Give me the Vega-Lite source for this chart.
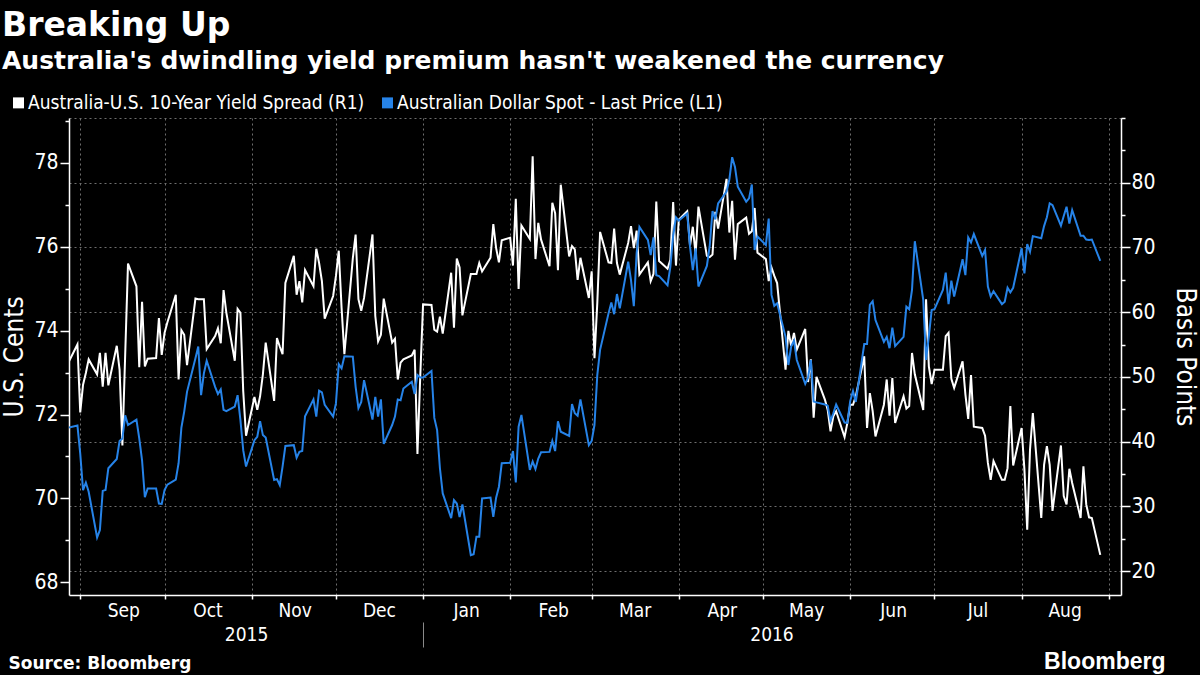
{
  "$schema": "https://vega.github.io/schema/vega-lite/v6.json",
  "width": 1052,
  "height": 477,
  "autosize": {"type": "none"},
  "padding": {"left": 69, "top": 118, "right": 79, "bottom": 80},
  "background": "#000000",
  "config": {
    "view": {"stroke": null},
    "font": "DejaVu Sans Condensed, DejaVu Sans",
    "axis": {"labelColor": "#ffffff", "titleColor": "#ffffff", "domainColor": "#ffffff", "tickColor": "#ffffff", "domainWidth": 1.5, "tickWidth": 1.5, "gridColor": "#6e6e6e", "gridDash": [2, 3], "gridWidth": 1}
  },
  "title": {
    "text": "Breaking Up",
    "subtitle": "Australia's dwindling yield premium hasn't weakened the currency",
    "anchor": "start",
    "frame": "group",
    "dx": -67,
    "offset": 19,
    "font": "DejaVu Sans",
    "fontSize": 33,
    "fontWeight": "bold",
    "color": "#ffffff",
    "subtitleFont": "DejaVu Sans",
    "subtitleFontSize": 25,
    "subtitleFontWeight": "bold",
    "subtitleColor": "#ffffff",
    "subtitlePadding": 6
  },
  "data": {
    "values": [
      {"date": "2015-08-28", "aud": 71.69, "spread": 52.4},
      {"date": "2015-08-31", "aud": 71.74, "spread": 55.0},
      {"date": "2015-09-01", "aud": 71.07, "spread": 44.5},
      {"date": "2015-09-02", "aud": 70.20, "spread": 48.8},
      {"date": "2015-09-03", "aud": 70.38, "spread": 50.6},
      {"date": "2015-09-04", "aud": 70.16, "spread": 52.7},
      {"date": "2015-09-07", "aud": 69.07, "spread": 50.4},
      {"date": "2015-09-08", "aud": 69.25, "spread": 53.7},
      {"date": "2015-09-09", "aud": 70.18, "spread": 48.5},
      {"date": "2015-09-10", "aud": 70.20, "spread": 53.7},
      {"date": "2015-09-11", "aud": 70.72, "spread": 48.7},
      {"date": "2015-09-14", "aud": 70.94, "spread": 54.8},
      {"date": "2015-09-15", "aud": 71.37, "spread": 51.1},
      {"date": "2015-09-16", "aud": 71.43, "spread": 39.4},
      {"date": "2015-09-17", "aud": 71.98, "spread": 53.5},
      {"date": "2015-09-18", "aud": 71.75, "spread": 67.5},
      {"date": "2015-09-21", "aud": 71.88, "spread": 64.0},
      {"date": "2015-09-22", "aud": 71.43, "spread": 51.5},
      {"date": "2015-09-23", "aud": 70.91, "spread": 61.6},
      {"date": "2015-09-24", "aud": 70.03, "spread": 51.6},
      {"date": "2015-09-25", "aud": 70.24, "spread": 52.8},
      {"date": "2015-09-28", "aud": 70.24, "spread": 52.9},
      {"date": "2015-09-29", "aud": 69.88, "spread": 59.1},
      {"date": "2015-09-30", "aud": 69.87, "spread": 53.4},
      {"date": "2015-10-01", "aud": 70.20, "spread": 56.8},
      {"date": "2015-10-02", "aud": 70.33, "spread": 58.4},
      {"date": "2015-10-05", "aud": 70.45, "spread": 62.7},
      {"date": "2015-10-06", "aud": 70.84, "spread": 49.6},
      {"date": "2015-10-07", "aud": 71.69, "spread": 57.2},
      {"date": "2015-10-08", "aud": 72.07, "spread": 56.5},
      {"date": "2015-10-09", "aud": 72.54, "spread": 51.8},
      {"date": "2015-10-12", "aud": 73.34, "spread": 62.1},
      {"date": "2015-10-13", "aud": 73.62, "spread": 62.0},
      {"date": "2015-10-14", "aud": 72.46, "spread": 62.0},
      {"date": "2015-10-15", "aud": 72.98, "spread": 62.0},
      {"date": "2015-10-16", "aud": 73.28, "spread": 54.3},
      {"date": "2015-10-19", "aud": 72.66, "spread": 56.3},
      {"date": "2015-10-20", "aud": 72.49, "spread": 57.5},
      {"date": "2015-10-21", "aud": 72.60, "spread": 55.2},
      {"date": "2015-10-22", "aud": 72.11, "spread": 63.4},
      {"date": "2015-10-23", "aud": 72.08, "spread": 59.9},
      {"date": "2015-10-26", "aud": 72.19, "spread": 52.5},
      {"date": "2015-10-27", "aud": 72.46, "spread": 60.5},
      {"date": "2015-10-28", "aud": 71.87, "spread": 59.9},
      {"date": "2015-10-29", "aud": 71.15, "spread": 47.8},
      {"date": "2015-10-30", "aud": 70.76, "spread": 40.9},
      {"date": "2015-11-02", "aud": 71.39, "spread": 46.9},
      {"date": "2015-11-03", "aud": 71.47, "spread": 44.9},
      {"date": "2015-11-04", "aud": 71.84, "spread": 47.0},
      {"date": "2015-11-05", "aud": 71.51, "spread": 50.4},
      {"date": "2015-11-06", "aud": 71.45, "spread": 55.3},
      {"date": "2015-11-09", "aud": 70.44, "spread": 46.3},
      {"date": "2015-11-10", "aud": 70.46, "spread": 56.0},
      {"date": "2015-11-11", "aud": 70.32, "spread": 54.7},
      {"date": "2015-11-12", "aud": 70.76, "spread": 53.5},
      {"date": "2015-11-13", "aud": 71.25, "spread": 64.5},
      {"date": "2015-11-16", "aud": 71.27, "spread": 68.7},
      {"date": "2015-11-17", "aud": 70.97, "spread": 62.7},
      {"date": "2015-11-18", "aud": 71.11, "spread": 64.8},
      {"date": "2015-11-19", "aud": 71.13, "spread": 61.5},
      {"date": "2015-11-20", "aud": 71.96, "spread": 66.5},
      {"date": "2015-11-23", "aud": 72.36, "spread": 64.0},
      {"date": "2015-11-24", "aud": 71.95, "spread": 69.8},
      {"date": "2015-11-25", "aud": 72.57, "spread": 67.6},
      {"date": "2015-11-26", "aud": 72.53, "spread": 64.8},
      {"date": "2015-11-27", "aud": 72.23, "spread": 59.0},
      {"date": "2015-11-30", "aud": 71.95, "spread": 62.5},
      {"date": "2015-12-01", "aud": 72.27, "spread": 65.6},
      {"date": "2015-12-02", "aud": 73.20, "spread": 69.5},
      {"date": "2015-12-03", "aud": 73.10, "spread": 60.7},
      {"date": "2015-12-04", "aud": 73.39, "spread": 53.5},
      {"date": "2015-12-07", "aud": 73.38, "spread": 68.3},
      {"date": "2015-12-08", "aud": 72.66, "spread": 72.0},
      {"date": "2015-12-09", "aud": 72.15, "spread": 62.0},
      {"date": "2015-12-10", "aud": 72.30, "spread": 60.2},
      {"date": "2015-12-11", "aud": 72.82, "spread": 62.2},
      {"date": "2015-12-14", "aud": 71.88, "spread": 72.0},
      {"date": "2015-12-15", "aud": 72.42, "spread": 59.4},
      {"date": "2015-12-16", "aud": 71.95, "spread": 55.5},
      {"date": "2015-12-17", "aud": 72.36, "spread": 56.5},
      {"date": "2015-12-18", "aud": 71.30, "spread": 62.1},
      {"date": "2015-12-21", "aud": 71.75, "spread": 55.3},
      {"date": "2015-12-22", "aud": 71.95, "spread": 55.9},
      {"date": "2015-12-23", "aud": 72.36, "spread": 49.6},
      {"date": "2015-12-24", "aud": 72.34, "spread": 52.2},
      {"date": "2015-12-25", "aud": 72.62, "spread": 52.7},
      {"date": "2015-12-28", "aud": 72.78, "spread": 53.3},
      {"date": "2015-12-29", "aud": 72.49, "spread": 54.2},
      {"date": "2015-12-30", "aud": 72.94, "spread": 38.1},
      {"date": "2015-12-31", "aud": 72.88, "spread": 50.1},
      {"date": "2016-01-01", "aud": 72.88, "spread": 61.2},
      {"date": "2016-01-04", "aud": 73.04, "spread": 61.1},
      {"date": "2016-01-05", "aud": 71.92, "spread": 57.3},
      {"date": "2016-01-06", "aud": 71.63, "spread": 57.0},
      {"date": "2016-01-07", "aud": 70.72, "spread": 59.3},
      {"date": "2016-01-08", "aud": 70.12, "spread": 56.7},
      {"date": "2016-01-11", "aud": 69.53, "spread": 66.1},
      {"date": "2016-01-12", "aud": 69.96, "spread": 57.6},
      {"date": "2016-01-13", "aud": 69.88, "spread": 68.3},
      {"date": "2016-01-14", "aud": 69.56, "spread": 66.9},
      {"date": "2016-01-15", "aud": 69.86, "spread": 59.5},
      {"date": "2016-01-18", "aud": 68.65, "spread": 65.9},
      {"date": "2016-01-19", "aud": 68.67, "spread": 65.9},
      {"date": "2016-01-20", "aud": 69.09, "spread": 65.9},
      {"date": "2016-01-21", "aud": 69.09, "spread": 67.6},
      {"date": "2016-01-22", "aud": 70.00, "spread": 66.3},
      {"date": "2016-01-25", "aud": 70.02, "spread": 68.4},
      {"date": "2016-01-26", "aud": 69.56, "spread": 73.6},
      {"date": "2016-01-27", "aud": 70.02, "spread": 69.9},
      {"date": "2016-01-28", "aud": 70.28, "spread": 67.7},
      {"date": "2016-01-29", "aud": 70.84, "spread": 71.1},
      {"date": "2016-02-01", "aud": 70.85, "spread": 71.5},
      {"date": "2016-02-02", "aud": 71.13, "spread": 67.2},
      {"date": "2016-02-03", "aud": 70.38, "spread": 77.5},
      {"date": "2016-02-04", "aud": 71.71, "spread": 63.6},
      {"date": "2016-02-05", "aud": 71.99, "spread": 73.4},
      {"date": "2016-02-08", "aud": 70.68, "spread": 71.3},
      {"date": "2016-02-09", "aud": 70.88, "spread": 84.1},
      {"date": "2016-02-10", "aud": 70.70, "spread": 68.2},
      {"date": "2016-02-11", "aud": 70.95, "spread": 73.8},
      {"date": "2016-02-12", "aud": 71.10, "spread": 71.2},
      {"date": "2016-02-15", "aud": 71.11, "spread": 67.1},
      {"date": "2016-02-16", "aud": 71.37, "spread": 76.9},
      {"date": "2016-02-17", "aud": 71.13, "spread": 75.3},
      {"date": "2016-02-18", "aud": 71.84, "spread": 66.5},
      {"date": "2016-02-19", "aud": 71.59, "spread": 79.7},
      {"date": "2016-02-22", "aud": 71.49, "spread": 68.6},
      {"date": "2016-02-23", "aud": 72.25, "spread": 70.2},
      {"date": "2016-02-24", "aud": 72.03, "spread": 69.7},
      {"date": "2016-02-25", "aud": 71.97, "spread": 65.0},
      {"date": "2016-02-26", "aud": 72.36, "spread": 68.4},
      {"date": "2016-02-29", "aud": 71.27, "spread": 62.2},
      {"date": "2016-03-01", "aud": 71.37, "spread": 66.3},
      {"date": "2016-03-02", "aud": 71.75, "spread": 52.9},
      {"date": "2016-03-03", "aud": 72.94, "spread": 61.4},
      {"date": "2016-03-04", "aud": 73.54, "spread": 72.4},
      {"date": "2016-03-07", "aud": 74.41, "spread": 67.7},
      {"date": "2016-03-08", "aud": 74.67, "spread": 67.6},
      {"date": "2016-03-09", "aud": 74.39, "spread": 72.9},
      {"date": "2016-03-10", "aud": 74.87, "spread": 67.6},
      {"date": "2016-03-11", "aud": 74.53, "spread": 65.8},
      {"date": "2016-03-14", "aud": 75.64, "spread": 70.7},
      {"date": "2016-03-15", "aud": 75.20, "spread": 73.3},
      {"date": "2016-03-16", "aud": 74.58, "spread": 69.9},
      {"date": "2016-03-17", "aud": 75.84, "spread": 72.6},
      {"date": "2016-03-18", "aud": 76.47, "spread": 65.8},
      {"date": "2016-03-21", "aud": 76.16, "spread": 67.7},
      {"date": "2016-03-22", "aud": 75.80, "spread": 64.8},
      {"date": "2016-03-23", "aud": 76.22, "spread": 65.9},
      {"date": "2016-03-24", "aud": 75.32, "spread": 77.1},
      {"date": "2016-03-25", "aud": 75.30, "spread": 67.9},
      {"date": "2016-03-28", "aud": 75.08, "spread": 66.7},
      {"date": "2016-03-29", "aud": 75.52, "spread": 68.1},
      {"date": "2016-03-30", "aud": 76.26, "spread": 77.0},
      {"date": "2016-03-31", "aud": 76.70, "spread": 67.2},
      {"date": "2016-04-01", "aud": 76.62, "spread": 74.3},
      {"date": "2016-04-04", "aud": 76.79, "spread": 75.6},
      {"date": "2016-04-05", "aud": 76.00, "spread": 70.3},
      {"date": "2016-04-06", "aud": 75.44, "spread": 73.2},
      {"date": "2016-04-07", "aud": 75.96, "spread": 68.9},
      {"date": "2016-04-08", "aud": 75.05, "spread": 76.3},
      {"date": "2016-04-11", "aud": 75.54, "spread": 68.7},
      {"date": "2016-04-12", "aud": 76.01, "spread": 68.5},
      {"date": "2016-04-13", "aud": 76.85, "spread": 68.9},
      {"date": "2016-04-14", "aud": 76.65, "spread": 75.5},
      {"date": "2016-04-15", "aud": 77.03, "spread": 72.9},
      {"date": "2016-04-18", "aud": 77.31, "spread": 80.6},
      {"date": "2016-04-19", "aud": 77.60, "spread": 72.3},
      {"date": "2016-04-20", "aud": 78.13, "spread": 77.2},
      {"date": "2016-04-21", "aud": 77.90, "spread": 68.1},
      {"date": "2016-04-22", "aud": 77.43, "spread": 73.6},
      {"date": "2016-04-25", "aud": 77.07, "spread": 74.6},
      {"date": "2016-04-26", "aud": 77.15, "spread": 72.1},
      {"date": "2016-04-27", "aud": 77.48, "spread": 72.5},
      {"date": "2016-04-28", "aud": 75.92, "spread": 76.1},
      {"date": "2016-04-29", "aud": 76.24, "spread": 69.2},
      {"date": "2016-05-02", "aud": 76.04, "spread": 68.2},
      {"date": "2016-05-03", "aud": 76.67, "spread": 64.8},
      {"date": "2016-05-04", "aud": 74.85, "spread": 66.9},
      {"date": "2016-05-05", "aud": 74.59, "spread": 65.6},
      {"date": "2016-05-06", "aud": 74.65, "spread": 64.5},
      {"date": "2016-05-09", "aud": 73.85, "spread": 51.1},
      {"date": "2016-05-10", "aud": 73.18, "spread": 57.1},
      {"date": "2016-05-11", "aud": 73.62, "spread": 54.8},
      {"date": "2016-05-12", "aud": 73.76, "spread": 56.8},
      {"date": "2016-05-13", "aud": 73.30, "spread": 54.2},
      {"date": "2016-05-16", "aud": 72.73, "spread": 57.4},
      {"date": "2016-05-17", "aud": 72.88, "spread": 49.2},
      {"date": "2016-05-18", "aud": 73.30, "spread": 52.7},
      {"date": "2016-05-19", "aud": 72.31, "spread": 43.7},
      {"date": "2016-05-20", "aud": 72.29, "spread": 50.0},
      {"date": "2016-05-23", "aud": 72.24, "spread": 46.5},
      {"date": "2016-05-24", "aud": 72.21, "spread": 44.9},
      {"date": "2016-05-25", "aud": 71.85, "spread": 41.6},
      {"date": "2016-05-26", "aud": 72.03, "spread": 43.9},
      {"date": "2016-05-27", "aud": 72.24, "spread": 44.7},
      {"date": "2016-05-30", "aud": 71.81, "spread": 40.7},
      {"date": "2016-05-31", "aud": 71.80, "spread": 42.9},
      {"date": "2016-06-01", "aud": 72.32, "spread": 45.7},
      {"date": "2016-06-02", "aud": 72.56, "spread": 45.7},
      {"date": "2016-06-03", "aud": 72.30, "spread": 47.0},
      {"date": "2016-06-06", "aud": 73.68, "spread": 53.2},
      {"date": "2016-06-07", "aud": 73.68, "spread": 42.1},
      {"date": "2016-06-08", "aud": 74.61, "spread": 47.5},
      {"date": "2016-06-09", "aud": 74.70, "spread": 44.7},
      {"date": "2016-06-10", "aud": 74.25, "spread": 40.8},
      {"date": "2016-06-13", "aud": 73.73, "spread": 45.7},
      {"date": "2016-06-14", "aud": 73.85, "spread": 49.6},
      {"date": "2016-06-15", "aud": 73.58, "spread": 44.0},
      {"date": "2016-06-16", "aud": 74.07, "spread": 49.8},
      {"date": "2016-06-17", "aud": 73.63, "spread": 42.9},
      {"date": "2016-06-20", "aud": 73.85, "spread": 47.0},
      {"date": "2016-06-21", "aud": 74.57, "spread": 45.1},
      {"date": "2016-06-22", "aud": 74.51, "spread": 45.5},
      {"date": "2016-06-23", "aud": 74.97, "spread": 53.7},
      {"date": "2016-06-24", "aud": 76.13, "spread": 50.4},
      {"date": "2016-06-27", "aud": 74.73, "spread": 44.9},
      {"date": "2016-06-28", "aud": 73.30, "spread": 62.0},
      {"date": "2016-06-29", "aud": 73.87, "spread": 51.6},
      {"date": "2016-06-30", "aud": 74.49, "spread": 48.9},
      {"date": "2016-07-01", "aud": 74.51, "spread": 51.1},
      {"date": "2016-07-04", "aud": 74.97, "spread": 51.1},
      {"date": "2016-07-05", "aud": 75.38, "spread": 56.3},
      {"date": "2016-07-06", "aud": 74.63, "spread": 56.8},
      {"date": "2016-07-07", "aud": 75.19, "spread": 49.7},
      {"date": "2016-07-08", "aud": 74.81, "spread": 48.3},
      {"date": "2016-07-11", "aud": 75.70, "spread": 52.4},
      {"date": "2016-07-12", "aud": 75.32, "spread": 47.3},
      {"date": "2016-07-13", "aud": 76.22, "spread": 43.5},
      {"date": "2016-07-14", "aud": 76.10, "spread": 50.3},
      {"date": "2016-07-15", "aud": 76.30, "spread": 42.3},
      {"date": "2016-07-18", "aud": 75.78, "spread": 42.1},
      {"date": "2016-07-19", "aud": 75.92, "spread": 40.9},
      {"date": "2016-07-20", "aud": 75.05, "spread": 36.7},
      {"date": "2016-07-21", "aud": 74.81, "spread": 34.1},
      {"date": "2016-07-22", "aud": 74.94, "spread": 37.0},
      {"date": "2016-07-25", "aud": 74.63, "spread": 34.1},
      {"date": "2016-07-26", "aud": 74.69, "spread": 34.1},
      {"date": "2016-07-27", "aud": 75.02, "spread": 35.9},
      {"date": "2016-07-28", "aud": 74.91, "spread": 45.5},
      {"date": "2016-07-29", "aud": 75.02, "spread": 36.3},
      {"date": "2016-08-01", "aud": 75.96, "spread": 42.1},
      {"date": "2016-08-02", "aud": 75.36, "spread": 35.7},
      {"date": "2016-08-03", "aud": 76.06, "spread": 26.4},
      {"date": "2016-08-04", "aud": 75.88, "spread": 38.8},
      {"date": "2016-08-05", "aud": 76.25, "spread": 44.4},
      {"date": "2016-08-08", "aud": 76.20, "spread": 28.2},
      {"date": "2016-08-09", "aud": 76.49, "spread": 36.4},
      {"date": "2016-08-10", "aud": 76.70, "spread": 39.3},
      {"date": "2016-08-11", "aud": 77.03, "spread": 36.4},
      {"date": "2016-08-12", "aud": 76.99, "spread": 29.3},
      {"date": "2016-08-15", "aud": 76.50, "spread": 39.4},
      {"date": "2016-08-16", "aud": 76.73, "spread": 31.6},
      {"date": "2016-08-17", "aud": 76.95, "spread": 30.3},
      {"date": "2016-08-18", "aud": 76.55, "spread": 35.8},
      {"date": "2016-08-19", "aud": 76.87, "spread": 33.6},
      {"date": "2016-08-22", "aud": 76.26, "spread": 28.2},
      {"date": "2016-08-23", "aud": 76.26, "spread": 36.2},
      {"date": "2016-08-24", "aud": 76.17, "spread": 30.3},
      {"date": "2016-08-25", "aud": 76.16, "spread": 28.3},
      {"date": "2016-08-26", "aud": 76.17, "spread": 28.2},
      {"date": "2016-08-29", "aud": 75.66, "spread": 22.5}
    ]
  },
  "layer": [
    {
      "mark": {"type": "line", "strokeWidth": 2, "clip": true},
      "encoding": {
        "x": {
          "field": "date",
          "type": "temporal",
          "scale": {"type": "utc", "domain": [{"year": 2015, "month": 8, "date": 28, "utc": true}, {"year": 2016, "month": 9, "date": 5, "hours": 9, "utc": true}]},
          "axis": {
            "orient": "bottom",
            "title": null,
            "values": [
              {"year": 2015, "month": 9, "date": 1, "utc": true},
              {"year": 2015, "month": 10, "date": 1, "utc": true},
              {"year": 2015, "month": 11, "date": 1, "utc": true},
              {"year": 2015, "month": 12, "date": 1, "utc": true},
              {"year": 2016, "month": 1, "date": 1, "utc": true},
              {"year": 2016, "month": 2, "date": 1, "utc": true},
              {"year": 2016, "month": 3, "date": 1, "utc": true},
              {"year": 2016, "month": 4, "date": 1, "utc": true},
              {"year": 2016, "month": 5, "date": 1, "utc": true},
              {"year": 2016, "month": 6, "date": 1, "utc": true},
              {"year": 2016, "month": 7, "date": 1, "utc": true},
              {"year": 2016, "month": 8, "date": 1, "utc": true},
              {"year": 2016, "month": 9, "date": 1, "utc": true}
            ],
            "labelExpr": "datum.value >= 1472000000000 ? '' : utcFormat(datum.value, '%b')",
            "labelOffset": 43,
            "labelFontSize": 19,
            "labelPadding": 2,
            "labelFlush": false,
            "labelOverlap": false,
            "tickSize": 4,
            "grid": true
          }
        },
        "y": {
          "field": "spread",
          "type": "quantitative",
          "scale": {"domain": [16.3, 90], "nice": false, "zero": false},
          "axis": {
            "orient": "right",
            "title": "Basis Points",
            "titleFontSize": 26,
            "titleFontWeight": "normal",
            "titlePadding": 16,
            "values": [20, 25, 30, 35, 40, 45, 50, 55, 60, 65, 70, 75, 80, 85, 90],
            "labelExpr": "datum.value % 10 === 0 && datum.value < 90 ? datum.label : ''",
            "labelFontSize": 21,
            "labelPadding": 1,
            "labelOverlap": false,
            "tickSize": {"condition": {"test": "datum.value % 10 === 0 && datum.value < 90", "value": 9}, "value": 4},
            "grid": true,
            "gridOpacity": {"condition": {"test": "datum.value % 10 === 0", "value": 1}, "value": 0}
          }
        },
        "color": {
          "datum": "Australia-U.S. 10-Year Yield Spread (R1)",
          "type": "nominal",
          "scale": {
            "domain": ["Australia-U.S. 10-Year Yield Spread (R1)", "Australian Dollar Spot - Last Price (L1)"],
            "range": ["#ffffff", "#2683e8"]
          },
          "legend": {
            "orient": "none",
            "legendX": -60,
            "legendY": -25,
            "direction": "horizontal",
            "title": null,
            "symbolType": "square",
            "symbolSize": 30,
            "symbolStrokeWidth": 5.5,
            "symbolOpacity": 1,
            "labelColor": "#ffffff",
            "labelFontSize": 19,
            "labelLimit": 0,
            "labelOffset": 0,
            "columnPadding": 8
          }
        }
      }
    },
    {
      "mark": {"type": "line", "strokeWidth": 2, "clip": true},
      "encoding": {
        "x": {"field": "date", "type": "temporal", "axis": null},
        "y": {
          "field": "aud",
          "type": "quantitative",
          "scale": {"domain": [67.7, 79.065], "nice": false, "zero": false},
          "axis": {
            "orient": "left",
            "title": "U.S. Cents",
            "titleFontSize": 26,
            "titleFontWeight": "normal",
            "titlePadding": 6,
            "values": [68, 69, 70, 71, 72, 73, 74, 75, 76, 77, 78, 79],
            "labelExpr": "datum.value % 2 === 0 ? datum.label : ''",
            "labelFontSize": 21,
            "labelPadding": 2,
            "labelOverlap": false,
            "tickSize": {"condition": {"test": "datum.value % 2 === 0", "value": 9}, "value": 4},
            "grid": false
          }
        },
        "color": {"datum": "Australian Dollar Spot - Last Price (L1)", "type": "nominal"}
      }
    },
    {
      "mark": {"type": "rule", "opacity": 0},
      "encoding": {
        "x": {
          "field": "date",
          "type": "temporal",
          "axis": {
            "orient": "bottom",
            "values": [{"year": 2015, "month": 10, "date": 30, "utc": true}, {"year": 2016, "month": 5, "date": 4, "utc": true}],
            "labelExpr": "utcFormat(datum.value, '%Y')",
            "labelFontSize": 19,
            "labelPadding": 30,
            "labelFlush": false,
            "tickSize": 0,
            "ticks": false,
            "domain": false,
            "grid": false,
            "title": "Bloomberg",
            "titleX": 1096,
            "titleY": 73,
            "titleAlign": "right",
            "titleBaseline": "alphabetic",
            "titleFont": "Liberation Sans",
            "titleFontSize": 23,
            "titleFontWeight": "bold"
          }
        }
      }
    },
    {
      "mark": {"type": "rule", "opacity": 0},
      "encoding": {
        "x": {
          "field": "date",
          "type": "temporal",
          "axis": {
            "orient": "bottom",
            "values": [{"year": 2016, "month": 1, "date": 1, "utc": true}],
            "labels": false,
            "ticks": true,
            "tickSize": 25,
            "tickColor": "#8a8a8a",
            "tickWidth": 1,
            "offset": 27,
            "domain": false,
            "grid": false,
            "title": "Source: Bloomberg",
            "titleX": -61,
            "titleY": 46,
            "titleAlign": "left",
            "titleBaseline": "alphabetic",
            "titleFont": "DejaVu Sans",
            "titleFontSize": 17,
            "titleFontWeight": "bold"
          }
        }
      }
    }
  ],
  "resolve": {"scale": {"y": "independent"}, "axis": {"x": "independent"}}
}
